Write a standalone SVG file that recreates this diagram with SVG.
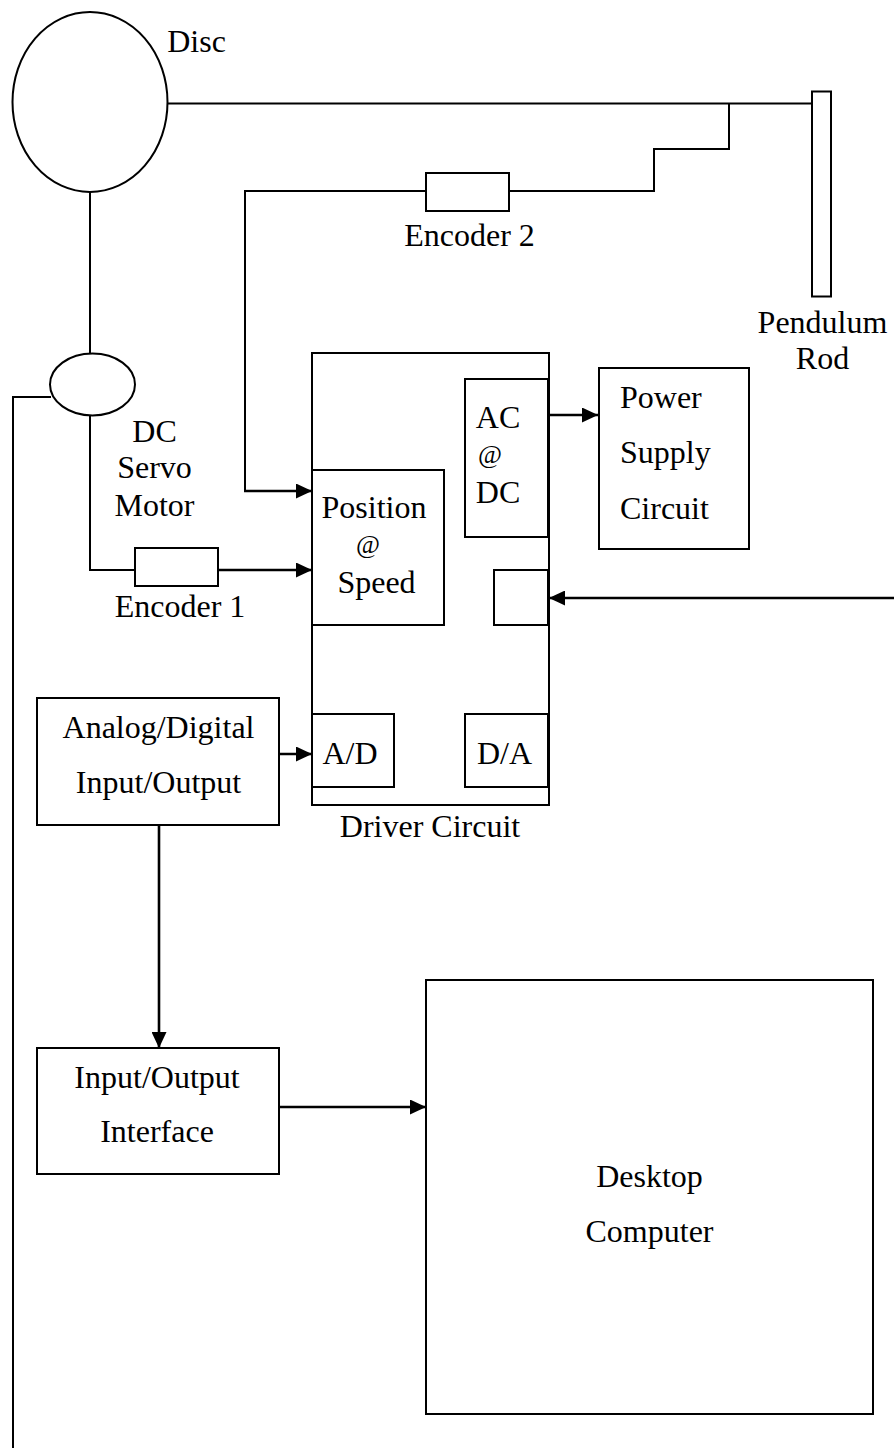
<svg xmlns="http://www.w3.org/2000/svg" width="894" height="1448" viewBox="0 0 894 1448">
<style>
.s{fill:#fff;stroke:#000;stroke-width:2}
.c{fill:none;stroke:#000;stroke-width:2}
.a{fill:none;stroke:#000;stroke-width:2.6}
text{font-family:"Liberation Serif","Times New Roman",serif;font-size:32px;fill:#000;text-anchor:middle}
.st{text-anchor:start}
.at{font-size:26px}
</style>
<defs><marker id="ah" markerUnits="userSpaceOnUse" markerWidth="16" markerHeight="15" refX="16" refY="7.5" orient="auto"><path d="M0,0L16,7.5L0,15Z" fill="#000"/></marker></defs>
<rect width="894" height="1448" fill="#fff"/>
<g id="connectors">
<path class="c" d="M166,103.500H812"/>
<path class="c" d="M729,103.500V149H654V191H509"/>
<path class="c" d="M426,191H245V492"/>
<path class="c" d="M90,190V353"/>
<path class="c" d="M90,414V570H135"/>
<path class="c" d="M51,397H13V1448"/>
<path class="a" d="M244,491H312" marker-end="url(#ah)"/>
<path class="a" d="M218,570H312" marker-end="url(#ah)"/>
<path class="a" d="M548,415H598" marker-end="url(#ah)"/>
<path class="a" d="M894,598H549" marker-end="url(#ah)"/>
<path class="a" d="M279,754H312" marker-end="url(#ah)"/>
<path class="a" d="M159,825V1048" marker-end="url(#ah)"/>
<path class="a" d="M279,1107H426" marker-end="url(#ah)"/>
</g>
<g id="disc"><ellipse class="s" cx="90" cy="102" rx="77.500" ry="90"/><text x="196.500" y="52">Disc</text></g>
<g id="rod"><rect class="s" x="812" y="91.500" width="19" height="205"/><text x="822.500" y="333">Pendulum</text><text x="822.500" y="369">Rod</text></g>
<g id="encoder2"><rect class="s" x="426" y="173" width="83" height="38"/><text x="469.500" y="246">Encoder 2</text></g>
<g id="motor"><ellipse class="s" cx="92.500" cy="384.500" rx="42.500" ry="31"/><text x="154.500" y="442">DC</text><text x="154.500" y="478">Servo</text><text x="154.500" y="516">Motor</text></g>
<g id="encoder1"><rect class="s" x="135" y="548" width="83" height="38"/><text x="180" y="617">Encoder 1</text></g>
<g id="driver"><rect class="s" x="312" y="353" width="237" height="452"/><text x="430" y="837">Driver Circuit</text></g>
<g id="acdc"><rect class="s" x="465" y="379" width="83" height="158"/><text x="498" y="428">AC</text><text class="at" x="490" y="463">@</text><text x="498" y="503">DC</text></g>
<g id="position"><rect class="s" x="312" y="470" width="132" height="155"/><text x="374" y="518">Position</text><text class="at" x="368" y="553">@</text><text x="376.500" y="593">Speed</text></g>
<g id="small"><rect class="s" x="494" y="570" width="54" height="55"/></g>
<g id="ad"><rect class="s" x="312" y="714" width="82" height="73"/><text x="350" y="764">A/D</text></g>
<g id="da"><rect class="s" x="465" y="714" width="83" height="73"/><text x="504.500" y="764">D/A</text></g>
<g id="power"><rect class="s" x="599" y="368" width="150" height="181"/><text class="st" x="620" y="408">Power</text><text class="st" x="620" y="463">Supply</text><text class="st" x="620" y="519">Circuit</text></g>
<g id="adio"><rect class="s" x="37" y="698" width="242" height="127"/><text x="158.500" y="738">Analog/Digital</text><text x="158.500" y="793">Input/Output</text></g>
<g id="io"><rect class="s" x="37" y="1048" width="242" height="126"/><text x="157" y="1088">Input/Output</text><text x="157" y="1142">Interface</text></g>
<g id="pc"><rect class="s" x="426" y="980" width="447" height="434"/><text x="649.500" y="1187">Desktop</text><text x="649.500" y="1242">Computer</text></g>
</svg>
